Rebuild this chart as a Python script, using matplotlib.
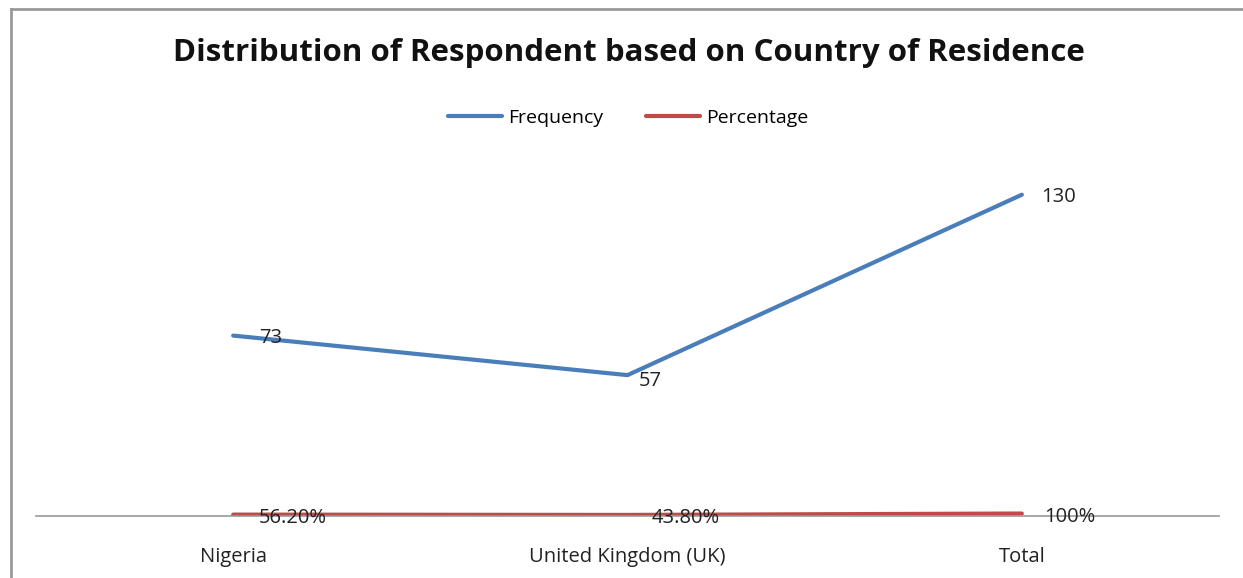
import matplotlib.pyplot as plt
from matplotlib.lines import Line2D

# --- dados ---
categories = ["Nigeria", "United Kingdom (UK)", "Total"]
frequency = [73, 57, 130]
percentage = [56.2, 43.8, 100]  # em %
pct_labels = ["56.20%", "43.80%", "100%"]

plt.rcParams['font.family'] = ['Open Sans', 'DejaVu Sans']

fig = plt.figure(figsize=(12.43, 5.78), dpi=100)
ax = fig.add_axes([36 / 1243, 62 / 578, (1219 - 36) / 1243, (516 - 170) / 578])

x = list(range(len(categories)))
pct_frac = [p / 100 for p in percentage]

ax.plot(x, frequency, color="#4A7EBB", lw=3, label="Frequency", solid_capstyle="round")
ax.plot(x, pct_frac, color="#BE4B48", lw=3, label="Percentage", solid_capstyle="round")

ax.set_xlim(-0.5, 2.5)
ax.set_ylim(0, 140)
ax.set_yticks([])
ax.set_xticks(x)
ax.set_xticklabels(categories, fontsize=14.5, color="#222222")
ax.tick_params(axis="x", length=0, pad=22)
for s in ["top", "right", "left"]:
    ax.spines[s].set_visible(False)
ax.spines["bottom"].set_color("#999999")
ax.spines["bottom"].set_linewidth(1.2)
ax.set_facecolor("none")

# rótulos de dados
freq_offsets = [(26, -2), (11, -6), (19, -2)]
for xi, v, off in zip(x, frequency, freq_offsets):
    ax.annotate(str(v), (xi, v), xytext=off, textcoords="offset pixels",
                ha="left", va="center", fontsize=14.5, color="#222222")
pct_offsets = [(26, -3), (24, -3), (22, -3)]
for xi, v, lab, off in zip(x, pct_frac, pct_labels, pct_offsets):
    ax.annotate(lab, (xi, v), xytext=off, textcoords="offset pixels",
                ha="left", va="center", fontsize=14.5, color="#222222")

fig.suptitle("Distribution of Respondent based on Country of Residence",
             x=629 / 1243, y=1 - 53 / 578, va="center", fontsize=22.5,
             fontweight="bold", color="#111111")

fig.legend(loc="center", bbox_to_anchor=(628 / 1243, 1 - 118 / 578), ncol=2,
           frameon=False, fontsize=14, handlelength=2.8, columnspacing=2.2,
           handletextpad=0.3)

# borda do gráfico
fig.add_artist(Line2D([11 / 1243, 1], [1 - 9 / 578, 1 - 9 / 578],
                      transform=fig.transFigure, color="#999999", lw=2))
fig.add_artist(Line2D([11 / 1243, 11 / 1243], [0, 1 - 9 / 578],
                      transform=fig.transFigure, color="#999999", lw=2))

fig.savefig("out.png", dpi=100)
